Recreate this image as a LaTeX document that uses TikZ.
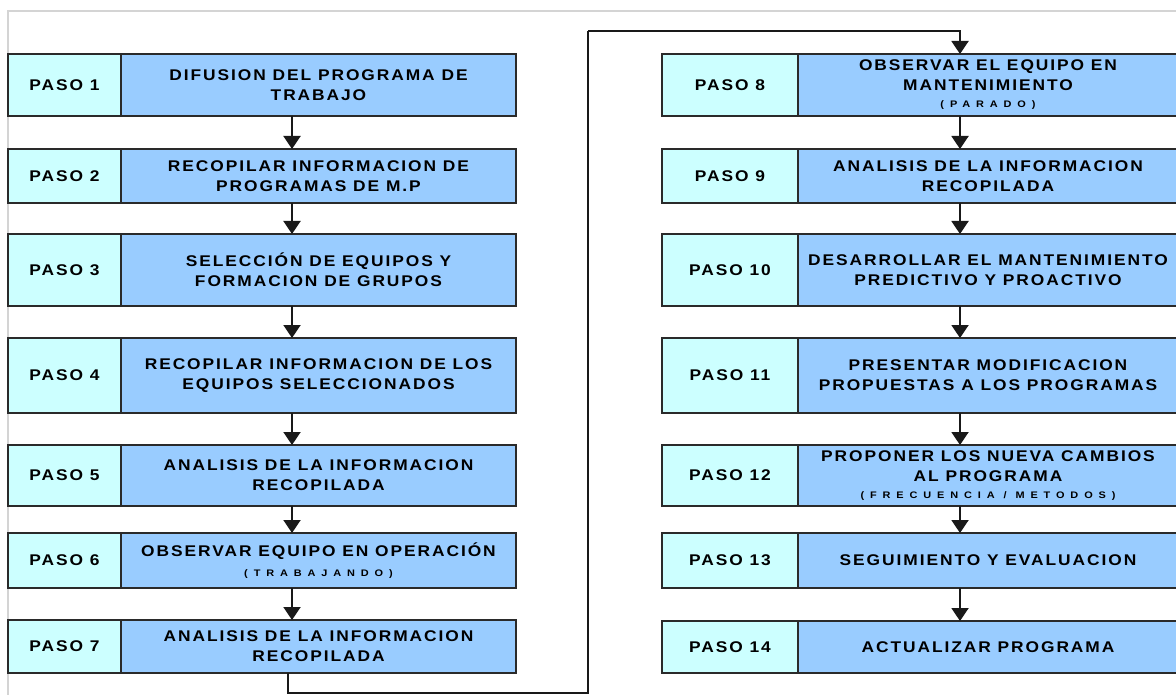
\documentclass[tikz,border=0pt]{standalone}
\usepackage{fontspec}
\setmainfont{Liberation Sans}
\newfontfamily\stepfont[LetterSpace=12.5,FakeStretch=1.12]{Liberation Sans}
\newfontfamily\notefont[LetterSpace=62,FakeStretch=1.15]{Liberation Sans}
\usetikzlibrary{arrows.meta}

\definecolor{labfill}{HTML}{CCFFFF}
\definecolor{mainfill}{HTML}{99CCFF}
\definecolor{edge}{HTML}{2A2A2A}
\definecolor{framegray}{HTML}{D4D4D4}

\tikzset{
  labbox/.style={draw=edge, line width=1.6pt, fill=labfill, inner sep=0pt, outer sep=0pt,
    font=\stepfont\bfseries\fontsize{15.5}{16}\selectfont},
  mainbox/.style={draw=edge, line width=1.6pt, fill=mainfill, inner sep=0pt, outer sep=0pt,
    align=center, font=\stepfont\bfseries\fontsize{15.5}{20}\selectfont},
  arr/.style={draw=black!90, line width=2pt, -{Triangle[width=17pt,length=13pt]}},
  link/.style={draw=black!90, line width=1.5pt},
}

% #1 name, #2 left x, #3 divider x, #4 right x, #5 top y, #6 bottom y, #7 label, #8 text
\newcommand\pasobox[8]{%
  \node[labbox, minimum width={#3-#2}, minimum height={#6-#5}]
    (l#1) at ({(#2+#3)/2},{(#5+#6)/2}) {#7};
  \node[mainbox, minimum width={#4-#3}, minimum height={#6-#5}]
    (m#1) at ({(#3+#4)/2},{(#5+#6)/2}) {#8};
}
\newcommand\subnote[1]{{\notefont\bfseries\fontsize{9.5}{12}\selectfont #1}}

\begin{document}
\begin{tikzpicture}[x=1pt,y=-1pt]
\useasboundingbox (0,0) rectangle (1176,695);
\fill[white] (0,0) rectangle (1176,695);

% light page frame
\draw[framegray, line width=1.2pt] (8,695) -- (8,11) -- (1176,11);

% left column
\pasobox{1}{8}{121}{516}{54}{116}{PASO 1}{DIFUSION DEL PROGRAMA DE\\TRABAJO}
\pasobox{2}{8}{121}{516}{149}{203}{PASO 2}{RECOPILAR INFORMACION DE\\PROGRAMAS DE M.P}
\pasobox{3}{8}{121}{516}{234}{306}{PASO 3}{SELECCIÓN DE EQUIPOS Y\\FORMACION DE GRUPOS}
\pasobox{4}{8}{121}{516}{338}{413}{PASO 4}{RECOPILAR INFORMACION DE LOS\\EQUIPOS SELECCIONADOS}
\pasobox{5}{8}{121}{516}{445}{506}{PASO 5}{ANALISIS DE LA INFORMACION\\RECOPILADA}
\pasobox{6}{8}{121}{516}{533}{588}{PASO 6}{OBSERVAR EQUIPO EN OPERACIÓN\\\subnote{(TRABAJANDO)}}
\pasobox{7}{8}{121}{516}{620}{673}{PASO 7}{ANALISIS DE LA INFORMACION\\RECOPILADA}

% right column
\pasobox{8}{662}{798}{1178}{54}{116}{PASO 8}{OBSERVAR EL EQUIPO EN\\MANTENIMIENTO\\[-3pt]\subnote{(PARADO)}}
\pasobox{9}{662}{798}{1178}{149}{203}{PASO 9}{ANALISIS DE LA INFORMACION\\RECOPILADA}
\pasobox{10}{662}{798}{1178}{234}{306}{PASO 10}{DESARROLLAR EL MANTENIMIENTO\\PREDICTIVO Y PROACTIVO}
\pasobox{11}{662}{798}{1178}{338}{413}{PASO 11}{PRESENTAR MODIFICACION\\PROPUESTAS A LOS PROGRAMAS}
\pasobox{12}{662}{798}{1178}{445}{506}{PASO 12}{PROPONER LOS NUEVA CAMBIOS\\AL PROGRAMA\\[-3pt]\subnote{(FRECUENCIA / METODOS)}}
\pasobox{13}{662}{798}{1178}{533}{588}{PASO 13}{SEGUIMIENTO Y EVALUACION}
\pasobox{14}{662}{798}{1178}{621}{673}{PASO 14}{ACTUALIZAR PROGRAMA}

% arrow columns
\coordinate (ax) at (292,0);
\coordinate (bx) at (960,0);

\foreach \a/\b in {1/2,2/3,3/4,4/5,5/6,6/7}
  \draw[arr] (m\a.south -| ax) -- (m\b.north -| ax);
\foreach \a/\b in {8/9,9/10,10/11,11/12,12/13,13/14}
  \draw[arr] (m\a.south -| bx) -- (m\b.north -| bx);

% link from step 7 over to step 8
\coordinate (c1) at (288,693);
\coordinate (c2) at (588,31);
\draw[link] (m7.south -| c1) -- (c1) -| (c2);
\draw[arr] (c2) -| (m8.north -| bx);
\end{tikzpicture}
\end{document}
